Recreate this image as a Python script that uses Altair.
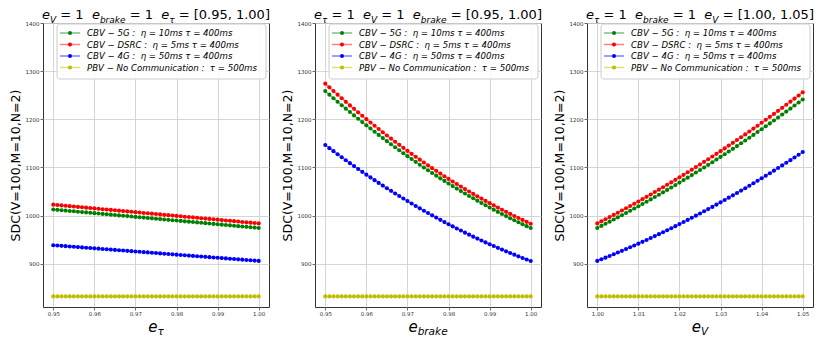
import altair as alt
import pandas as pd

# ---------------- data ----------------
E_TAU = [round(0.95 + 0.001 * i, 3) for i in range(51)]
E_BRAKE = [round(0.95 + 0.001 * i, 3) for i in range(51)]
E_V = [round(1.00 + 0.001 * i, 3) for i in range(51)]

SERIES = ["CBV-5G", "CBV-DSRC", "CBV-4G", "PBV"]
COLORS = ["#008000", "#ff0000", "#0000ff", "#bfbf00"]
LEGEND_LABELS = [
    "CBV − 5G :\u00a0\u00a0η = 10ms τ = 400ms",
    "CBV − DSRC :\u00a0\u00a0η = 5ms τ = 400ms",
    "CBV − 4G :\u00a0\u00a0η = 50ms τ = 400ms",
    "PBV − No Communication :\u00a0\u00a0τ = 500ms",
]
Y_LABEL = "SDC(V=100,M=10,N=2)"
Y_TICKS = [900, 1000, 1100, 1200, 1300, 1400]
X_TICKS_1 = [0.95, 0.96, 0.97, 0.98, 0.99, 1.00]
X_TICKS_3 = [1.00, 1.01, 1.02, 1.03, 1.04, 1.05]

# panel 1 : e_tau varies
P1_5G = [1012.6, 1011.8, 1011.1, 1010.3, 1009.5, 1008.8, 1008.0, 1007.2, 1006.5, 1005.7, 1004.9,
         1004.2, 1003.4, 1002.6, 1001.8, 1001.1, 1000.3, 999.5, 998.8, 998.0, 997.2, 996.5, 995.7,
         994.9, 994.2, 993.4, 992.6, 991.9, 991.1, 990.3, 989.6, 988.8, 988.0, 987.3, 986.5, 985.7,
         985.0, 984.2, 983.4, 982.6, 981.9, 981.1, 980.3, 979.6, 978.8, 978.0, 977.3, 976.5, 975.7,
         975.0, 974.2]
P1_DSRC = [1022.6, 1021.8, 1021.0, 1020.3, 1019.5, 1018.7, 1017.9, 1017.1, 1016.4, 1015.6, 1014.8,
           1014.0, 1013.2, 1012.5, 1011.7, 1010.9, 1010.1, 1009.3, 1008.6, 1007.8, 1007.0, 1006.2,
           1005.4, 1004.7, 1003.9, 1003.1, 1002.3, 1001.5, 1000.8, 1000.0, 999.2, 998.4, 997.6,
           996.9, 996.1, 995.3, 994.5, 993.7, 993.0, 992.2, 991.4, 990.6, 989.8, 989.1, 988.3,
           987.5, 986.7, 985.9, 985.2, 984.4, 983.6]
P1_4G = [938.4, 937.7, 937.1, 936.4, 935.8, 935.1, 934.5, 933.8, 933.2, 932.5, 931.9, 931.2, 930.6,
         929.9, 929.2, 928.6, 927.9, 927.3, 926.6, 926.0, 925.3, 924.7, 924.0, 923.4, 922.7, 922.1,
         921.4, 920.7, 920.1, 919.4, 918.8, 918.1, 917.5, 916.8, 916.2, 915.5, 914.9, 914.2, 913.5,
         912.9, 912.2, 911.6, 910.9, 910.3, 909.6, 909.0, 908.3, 907.7, 907.0, 906.4, 905.7]

# panel 2 : e_brake varies
P2_5G = [1258.5, 1251.1, 1243.7, 1236.4, 1229.2, 1222.1, 1215.0, 1208.0, 1201.1, 1194.2, 1187.4,
         1180.7, 1174.0, 1167.5, 1160.9, 1154.5, 1148.1, 1141.9, 1135.6, 1129.5, 1123.4, 1117.4,
         1111.5, 1105.6, 1099.8, 1094.1, 1088.4, 1082.8, 1077.3, 1071.9, 1066.5, 1061.2, 1056.0,
         1050.8, 1045.7, 1040.7, 1035.8, 1030.9, 1026.1, 1021.4, 1016.7, 1012.1, 1007.6, 1003.1,
         998.8, 994.5, 990.2, 986.1, 982.0, 978.0, 974.0]
P2_DSRC = [1274.0, 1266.3, 1258.6, 1251.1, 1243.6, 1236.2, 1228.8, 1221.6, 1214.4, 1207.3, 1200.3,
           1193.4, 1186.5, 1179.7, 1173.0, 1166.3, 1159.8, 1153.3, 1146.9, 1140.6, 1134.3, 1128.2,
           1122.1, 1116.1, 1110.1, 1104.3, 1098.5, 1092.8, 1087.2, 1081.6, 1076.1, 1070.7, 1065.4,
           1060.2, 1055.0, 1049.9, 1044.9, 1040.0, 1035.2, 1030.4, 1025.7, 1021.1, 1016.5, 1012.1,
           1007.7, 1003.4, 999.1, 995.0, 990.9, 986.9, 983.0]
P2_4G = [1146.5, 1140.0, 1133.7, 1127.3, 1121.1, 1114.9, 1108.8, 1102.7, 1096.8, 1090.8, 1085.0,
         1079.2, 1073.5, 1067.8, 1062.2, 1056.7, 1051.3, 1045.9, 1040.6, 1035.3, 1030.1, 1025.0,
         1019.9, 1015.0, 1010.0, 1005.2, 1000.4, 995.7, 991.0, 986.4, 981.9, 977.5, 973.1, 968.8,
         964.5, 960.3, 956.2, 952.1, 948.2, 944.2, 940.4, 936.6, 932.9, 929.2, 925.6, 922.1, 918.7,
         915.3, 911.9, 908.7, 905.5]

# panel 3 : e_V varies
P3_5G = [974.2, 978.5, 982.9, 987.3, 991.7, 996.2, 1000.7, 1005.3, 1009.9, 1014.5, 1019.2, 1023.9,
         1028.7, 1033.5, 1038.4, 1043.3, 1048.2, 1053.2, 1058.2, 1063.3, 1068.4, 1073.6, 1078.7,
         1084.0, 1089.3, 1094.6, 1099.9, 1105.3, 1110.8, 1116.3, 1121.8, 1127.4, 1133.0, 1138.6,
         1144.3, 1150.1, 1155.9, 1161.7, 1167.5, 1173.5, 1179.4, 1185.4, 1191.4, 1197.5, 1203.6,
         1209.8, 1216.0, 1222.2, 1228.5, 1234.8, 1241.2]
P3_DSRC = [983.6, 988.0, 992.4, 996.8, 1001.3, 1005.9, 1010.5, 1015.1, 1019.8, 1024.5, 1029.3,
           1034.1, 1038.9, 1043.8, 1048.8, 1053.8, 1058.8, 1063.9, 1069.0, 1074.2, 1079.4, 1084.6,
           1089.9, 1095.2, 1100.6, 1106.1, 1111.5, 1117.0, 1122.6, 1128.2, 1133.8, 1139.5, 1145.3,
           1151.0, 1156.9, 1162.7, 1168.6, 1174.6, 1180.6, 1186.6, 1192.7, 1198.9, 1205.0, 1211.2,
           1217.5, 1223.8, 1230.2, 1236.6, 1243.0, 1249.5, 1256.0]
P3_4G = [905.7, 909.1, 912.5, 916.0, 919.5, 923.1, 926.7, 930.3, 934.0, 937.8, 941.6, 945.4, 949.3,
         953.3, 957.3, 961.3, 965.4, 969.5, 973.7, 977.9, 982.2, 986.5, 990.9, 995.3, 999.7, 1004.2,
         1008.8, 1013.4, 1018.0, 1022.7, 1027.4, 1032.2, 1037.1, 1041.9, 1046.9, 1051.8, 1056.8,
         1061.9, 1067.0, 1072.2, 1077.4, 1082.6, 1087.9, 1093.3, 1098.7, 1104.1, 1109.6, 1115.1,
         1120.7, 1126.3, 1132.0]

PBV = [832.0] * 51

# titles: (text, kind) with kind m = italic main, s = italic subscript, n = upright main
TITLES = [
    [("e", "m"), ("V", "s"), (" = 1  ", "n"), ("e", "m"), ("brake", "s"), (" = 1  ", "n"),
     ("e", "m"), ("τ", "s"), (" = [0.95, 1.00]", "n")],
    [("e", "m"), ("τ", "s"), (" = 1  ", "n"), ("e", "m"), ("V", "s"), (" = 1  ", "n"),
     ("e", "m"), ("brake", "s"), (" = [0.95, 1.00]", "n")],
    [("e", "m"), ("τ", "s"), (" = 1  ", "n"), ("e", "m"), ("brake", "s"), (" = 1  ", "n"),
     ("e", "m"), ("V", "s"), (" = [1.00, 1.05]", "n")],
]
XLABELS = [
    [("e", "m"), ("τ", "s")],
    [("e", "m"), ("brake", "s")],
    [("e", "m"), ("V", "s")],
]

# ---------------- layout ----------------
PW, PH = 226, 284
Y_DOMAIN = [810, 1400]
FONT = "DejaVu Sans"

EM = {"e": 0.615, "V": 0.684, "b": 0.635, "r": 0.411, "a": 0.613, "k": 0.579, "τ": 0.58,
      " ": 0.318, "=": 0.838, "[": 0.39, "]": 0.39, ".": 0.318, ",": 0.318}


def text_width(s, size):
    return sum(EM.get(c, 0.636) for c in s) * size


def build_pieces(segs, base_y, main_fs, sub_fs, sub_dy):
    pieces = []
    cursor = 0.0
    for txt, kind in segs:
        fs = sub_fs if kind == "s" else main_fs
        lead = len(txt) - len(txt.lstrip(" "))
        core = txt.strip(" ")
        if core:
            pieces.append({"t": core,
                           "px": cursor + lead * EM[" "] * fs,
                           "py": base_y + (sub_dy if kind == "s" else 0.0),
                           "fs": fs,
                           "it": kind != "n"})
        cursor += text_width(txt, fs)
    shift = PW / 2 - cursor / 2
    for p in pieces:
        p["px"] += shift
    return pd.DataFrame(pieces)


def text_layers(df):
    layers = []
    for italic in (True, False):
        sub = df[df["it"] == italic]
        if len(sub) == 0:
            continue
        mk = alt.Chart(sub).mark_text(align="left", baseline="alphabetic", font=FONT,
                                      fontStyle="italic" if italic else "normal",
                                      color="black")
        layers.append(mk.encode(
            x=alt.X("px:Q", scale=None, axis=None),
            y=alt.Y("py:Q", scale=None, axis=None),
            text="t:N",
            size=alt.Size("fs:Q", scale=None, legend=None),
        ))
    return layers


def panel(xs, series_vals, x_domain, x_ticks, title_segs, xlab_segs):
    rows = []
    for name, vals in zip(SERIES, series_vals):
        for xv, yv in zip(xs, vals):
            rows.append({"x": xv, "y": yv, "series": name})
    df = pd.DataFrame(rows)

    color = alt.Color("series:N", scale=alt.Scale(domain=SERIES, range=COLORS), legend=None)
    xenc = alt.X("x:Q", scale=alt.Scale(domain=x_domain, nice=False, zero=False),
                 axis=alt.Axis(values=x_ticks, format=".2f", title=None, grid=True))
    yenc = alt.Y("y:Q", scale=alt.Scale(domain=Y_DOMAIN, nice=False, zero=False),
                 axis=alt.Axis(values=Y_TICKS, format="d", title=Y_LABEL, grid=True,
                               titleFontSize=12.5, titlePadding=3))

    lines = alt.Chart(df).mark_line(strokeWidth=1.4, opacity=0.55).encode(
        x=xenc, y=yenc, color=color, detail="series:N")
    pts = alt.Chart(df).mark_circle(size=17, opacity=1).encode(x=xenc, y=yenc, color=color)

    # legend box
    box = alt.Chart(pd.DataFrame({"k": [0]})).mark_rect(
        fill="white", fillOpacity=0.85, stroke="#cccccc", strokeWidth=1, cornerRadius=3
    ).encode(x=alt.value(14), x2=alt.value(PW - 3), y=alt.value(1), y2=alt.value(56))

    leg = pd.DataFrame({"label": LEGEND_LABELS, "color": COLORS,
                        "ly": [10 + 11.5 * i for i in range(len(LEGEND_LABELS))]})
    ly = alt.Y("ly:Q", scale=None, axis=None)
    lc = alt.Color("color:N", scale=None, legend=None)
    lrules = alt.Chart(leg).mark_rule(strokeWidth=1.5, opacity=0.5).encode(
        x=alt.value(17), x2=alt.value(37), y=ly, color=lc)
    lpts = alt.Chart(leg).mark_circle(size=17, opacity=1).encode(x=alt.value(27), y=ly, color=lc)
    ltxt = alt.Chart(leg).mark_text(align="left", baseline="middle", font=FONT,
                                    fontStyle="italic", fontSize=8.6, color="black").encode(
        x=alt.value(44), y=ly, text="label:N")

    tdf = build_pieces(title_segs, -4.0, 13.0, 9.0, 3.5)
    xdf = build_pieces(xlab_segs, PH + 24.5, 15.0, 10.5, 3.5)

    layers = [lines, pts, box, lrules, lpts, ltxt] + text_layers(tdf) + text_layers(xdf)
    return alt.layer(*layers).properties(width=PW, height=PH)


p1 = panel(E_TAU, [P1_5G, P1_DSRC, P1_4G, PBV], [0.9475, 1.0025], X_TICKS_1, TITLES[0], XLABELS[0])
p2 = panel(E_BRAKE, [P2_5G, P2_DSRC, P2_4G, PBV], [0.9475, 1.0025], X_TICKS_1, TITLES[1], XLABELS[1])
p3 = panel(E_V, [P3_5G, P3_DSRC, P3_4G, PBV], [0.9975, 1.0525], X_TICKS_3, TITLES[2], XLABELS[2])

chart = alt.hconcat(p1, p2, p3, spacing=46, bounds="flush").properties(
    padding=0
).configure_view(
    stroke="#333333", strokeWidth=1
).configure_axis(
    labelFont=FONT, labelFontSize=5.5, labelColor="#333333", labelPadding=1,
    tickColor="#444444", tickSize=3, tickWidth=0.8, domain=False,
    gridColor="#d0d0d0", gridWidth=0.9,
    titleFont=FONT, titleFontWeight="normal", titleColor="#000000",
)

chart.save("out.html", embed_options={"renderer": "svg", "actions": False})
